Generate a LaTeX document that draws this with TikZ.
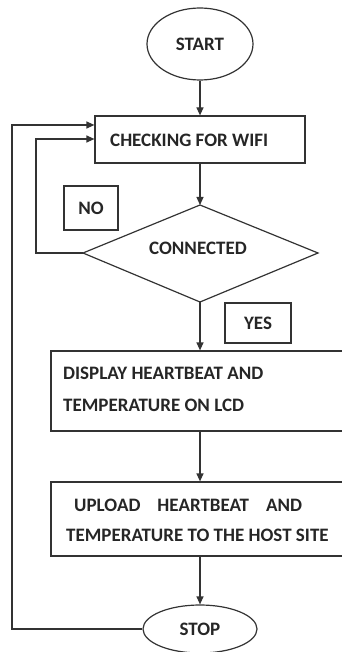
\documentclass[tikz,border=0pt]{standalone}
\usepackage{fontspec}
\setmainfont{Carlito}
\usetikzlibrary{shapes.geometric,arrows.meta,calc}
\begin{document}
\begin{tikzpicture}[x=1pt,y=-1pt,
  every node/.style={font=\bfseries\fontsize{19}{22}\selectfont, text=black!85, inner sep=0pt},
  line/.style={draw=black!80, line width=1.2pt},
  arr/.style={line, -{Triangle[length=8pt,width=7pt]}},
  boxc/.style={line, rectangle}]
\clip (0,0) rectangle (342,652);
\useasboundingbox (0,0) rectangle (342,652);
% shapes
\node[line, ellipse, minimum width=106pt, minimum height=72pt] (start) at (200,44) {START};
\node[line, rectangle, minimum width=210pt, minimum height=47pt] (check) at (200,139.5) {};
\node[anchor=west] (checkt) at (110,140) {CHECKING FOR WIFI};
\coordinate (dT) at (200,205);
\coordinate (dL) at (83,253);
\coordinate (dR) at (318,253);
\coordinate (dB) at (200,302);
\draw[line] (dT) -- (dR) -- (dB) -- (dL) -- cycle;
\node (conn) at (198,248) {CONNECTED};
\node[line, rectangle, minimum width=54pt, minimum height=44pt] (no) at (91,208) {NO};
\node[line, rectangle, minimum width=66pt, minimum height=40pt] (yes) at (258,323) {YES};
\node[line, rectangle, minimum width=296pt, minimum height=80pt] (disp) at (199,391) {};
\node[anchor=west] (d1) at (63,373) {DISPLAY HEARTBEAT AND};
\node[anchor=west] (d2) at (63,405) {TEMPERATURE ON LCD};
\node[line, rectangle, minimum width=296pt, minimum height=74pt] (upl) at (199,519) {};
\node[anchor=west] (u1) at (74,505) {UPLOAD\hspace{17pt}HEARTBEAT\hspace{17pt}AND};
\node[anchor=west] (u2) at (66,535) {TEMPERATURE TO THE HOST SITE};
\node[line, ellipse, minimum width=114pt, minimum height=48pt] (stop) at (200,629) {STOP};
% connectors
\draw[arr] (start.south) -- (check.north);
\draw[arr] (check.south) -- (dT);
\draw[arr] (dB) -- (disp.north -| dB);
\draw[arr] (disp.south -| dB) -- (upl.north -| dB);
\draw[arr] (upl.south -| dB) -- (stop.north);
\draw[arr] (dL) -- (36,253) -- (36,139) -- (check.west |- 0,139);
\draw[arr] (stop.west) -- (12,629) -- (12,125) -- (check.west |- 0,125);
\end{tikzpicture}
\end{document}
